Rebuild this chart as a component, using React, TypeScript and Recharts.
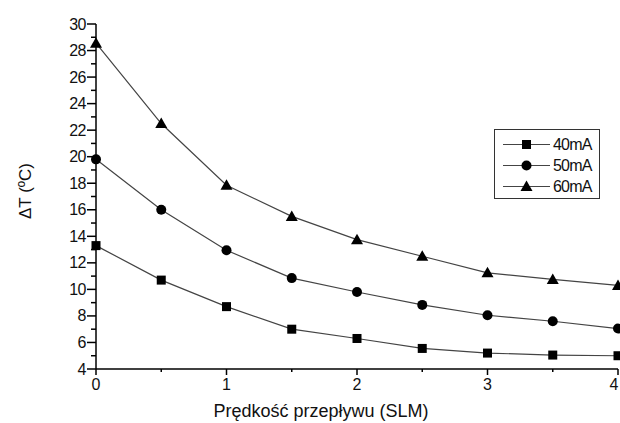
import { LineChart, Line, XAxis, YAxis, Label } from 'recharts'

// Flow rate (SLM) and temperature rise for three drive currents
const flow = [0, 0.5, 1, 1.5, 2, 2.5, 3, 3.5, 4]
const dt40 = [13.3, 10.7, 8.7, 7.0, 6.3, 5.55, 5.2, 5.05, 5.0]
const dt50 = [19.8, 16.0, 12.95, 10.85, 9.8, 8.83, 8.05, 7.6, 7.05]
const dt60 = [28.55, 22.5, 17.85, 15.5, 13.75, 12.5, 11.25, 10.75, 10.3]

const seriesNames = ['40mA', '50mA', '60mA']
const xTicks = [0, 0.5, 1, 1.5, 2, 2.5, 3, 3.5, 4]
const yTicks = [4, 5, 6, 7, 8, 9, 10, 11, 12, 13, 14, 15, 16, 17, 18, 19, 20, 21, 22, 23, 24, 25, 26, 27, 28, 29, 30]

const data = flow.map((x, i) => ({ x, a: dt40[i], b: dt50[i], c: dt60[i] }))

const FONT = '"Liberation Sans", Arial, sans-serif'

const Square = (p: any) => (
  <rect key={`s${p.index}`} x={p.cx - 4.5} y={p.cy - 4.5} width={9} height={9} fill="#000" />
)
const Circle = (p: any) => <circle key={`c${p.index}`} cx={p.cx} cy={p.cy} r={5} fill="#000" />
const Triangle = (p: any) => (
  <path
    key={`t${p.index}`}
    d={`M${p.cx},${p.cy - 6} L${p.cx + 6},${p.cy + 4.5} L${p.cx - 6},${p.cy + 4.5} Z`}
    fill="#000"
  />
)

const LeftTick = ({ x, y, payload }: any) => {
  const major = payload.value % 2 === 0
  return (
    <g>
      <line x1={x} x2={x - (major ? 9 : 5)} y1={y} y2={y} stroke="#000" strokeWidth={1.5} />
      {major && (
        <text x={x - 10} y={y} textAnchor="end" dominantBaseline="central" fontSize={16} fontFamily={FONT} letterSpacing={-0.5} fill="#111">
          {payload.value}
        </text>
      )}
    </g>
  )
}

const RightTick = ({ x, y, payload }: any) => {
  const major = payload.value % 2 === 0
  return <line x1={x} x2={x - (major ? 8 : 5)} y1={y} y2={y} stroke="#000" strokeWidth={1.5} />
}

const BottomTick = ({ x, y, payload }: any) => {
  const major = Number.isInteger(payload.value)
  const last = payload.value === 4
  return (
    <g>
      <line x1={x} x2={x} y1={y} y2={y + (major ? 6 : 3)} stroke="#000" strokeWidth={1.5} />
      {major && (
        <text x={last ? x - 4 : x} y={y + 21} textAnchor="middle" fontSize={16} fontFamily={FONT} fill="#111">
          {payload.value}
        </text>
      )}
    </g>
  )
}

const TopTick = ({ x, y }: any) => <line x1={x} x2={x} y1={y} y2={y - 3} stroke="#000" strokeWidth={1.5} />

const icons = [
  <rect x={19} y={4} width={9} height={9} fill="#000" />,
  <circle cx={23.5} cy={8.5} r={5} fill="#000" />,
  <path d="M23.5,2.5 L29.5,13 L17.5,13 Z" fill="#000" />,
]

const LegendBox = () => (
  <div
    style={{
      position: 'absolute',
      left: 494,
      top: 129,
      border: '1px solid #333',
      width: 106,
      height: 70,
      boxSizing: 'border-box',
      padding: '4px 0 0 8px',
      background: '#fff',
    }}
  >
    {seriesNames.map((n, i) => (
      <div key={n} style={{ display: 'flex', alignItems: 'center', height: 21 }}>
        <svg width={48} height={17}>
          <line x1={0} x2={47} y1={8.5} y2={8.5} stroke="#444" strokeWidth={1} />
          {icons[i]}
        </svg>
        <span style={{ fontFamily: FONT, fontSize: 16, letterSpacing: -0.8, marginLeft: 2, color: '#111' }}>{n}</span>
      </div>
    ))}
  </div>
)

export default function App() {
  return (
    <div style={{ position: 'absolute', left: 0, top: 0, width: 620, height: 423, background: '#fff' }}>
      <LineChart width={620} height={423} data={data} margin={{ top: 24, right: 2, bottom: 0, left: 36 }}>
        <XAxis
          xAxisId="b"
          dataKey="x"
          type="number"
          domain={[0, 4]}
          ticks={xTicks}
          interval={0}
          height={54}
          tickSize={0}
          tickMargin={0}
          tickLine={false}
          tick={<BottomTick />}
          axisLine={{ stroke: '#000', strokeWidth: 1.5 }}
        >
          <Label
            content={({ viewBox }: any) => (
              <text
                x={viewBox.x + viewBox.width / 2 - 36}
                y={viewBox.y + 48}
                textAnchor="middle"
                fontSize={18}
                fontFamily={FONT}
                fill="#111"
              >
                Prędkość przepływu (SLM)
              </text>
            )}
          />
        </XAxis>
        <XAxis
          xAxisId="t"
          orientation="top"
          type="number"
          domain={[0, 4]}
          ticks={xTicks}
          interval={0}
          height={0}
          tickSize={0}
          tickMargin={0}
          tickLine={false}
          tick={<TopTick />}
          axisLine={{ stroke: '#000', strokeWidth: 1.5 }}
        />
        <YAxis
          yAxisId="l"
          type="number"
          domain={[4, 30]}
          ticks={yTicks}
          interval={0}
          width={60}
          tickSize={0}
          tickMargin={0}
          tickLine={false}
          tick={<LeftTick />}
          axisLine={{ stroke: '#000', strokeWidth: 1.5 }}
        >
          <Label
            content={({ viewBox }: any) => {
              const cx = viewBox.x - 11
              const cy = 191
              return (
                <text
                  x={cx}
                  y={cy}
                  transform={`rotate(-90 ${cx} ${cy})`}
                  textAnchor="middle"
                  dominantBaseline="central"
                  fontSize={17}
                  fontFamily={FONT}
                  fill="#111"
                >
                  ΔT (ºC)
                </text>
              )
            }}
          />
        </YAxis>
        <YAxis
          yAxisId="r"
          orientation="right"
          type="number"
          domain={[4, 30]}
          ticks={yTicks}
          interval={0}
          width={0}
          tickSize={0}
          tickMargin={0}
          tickLine={false}
          tick={<RightTick />}
          axisLine={{ stroke: '#000', strokeWidth: 1.5 }}
        />
        <Line xAxisId="b" yAxisId="l" name={seriesNames[0]} dataKey="a" type="linear" stroke="#444" strokeWidth={1.2} dot={Square} activeDot={false} isAnimationActive={false} />
        <Line xAxisId="b" yAxisId="l" name={seriesNames[1]} dataKey="b" type="linear" stroke="#444" strokeWidth={1.2} dot={Circle} activeDot={false} isAnimationActive={false} />
        <Line xAxisId="b" yAxisId="l" name={seriesNames[2]} dataKey="c" type="linear" stroke="#444" strokeWidth={1.2} dot={Triangle} activeDot={false} isAnimationActive={false} />
      </LineChart>
      <LegendBox />
    </div>
  )
}
